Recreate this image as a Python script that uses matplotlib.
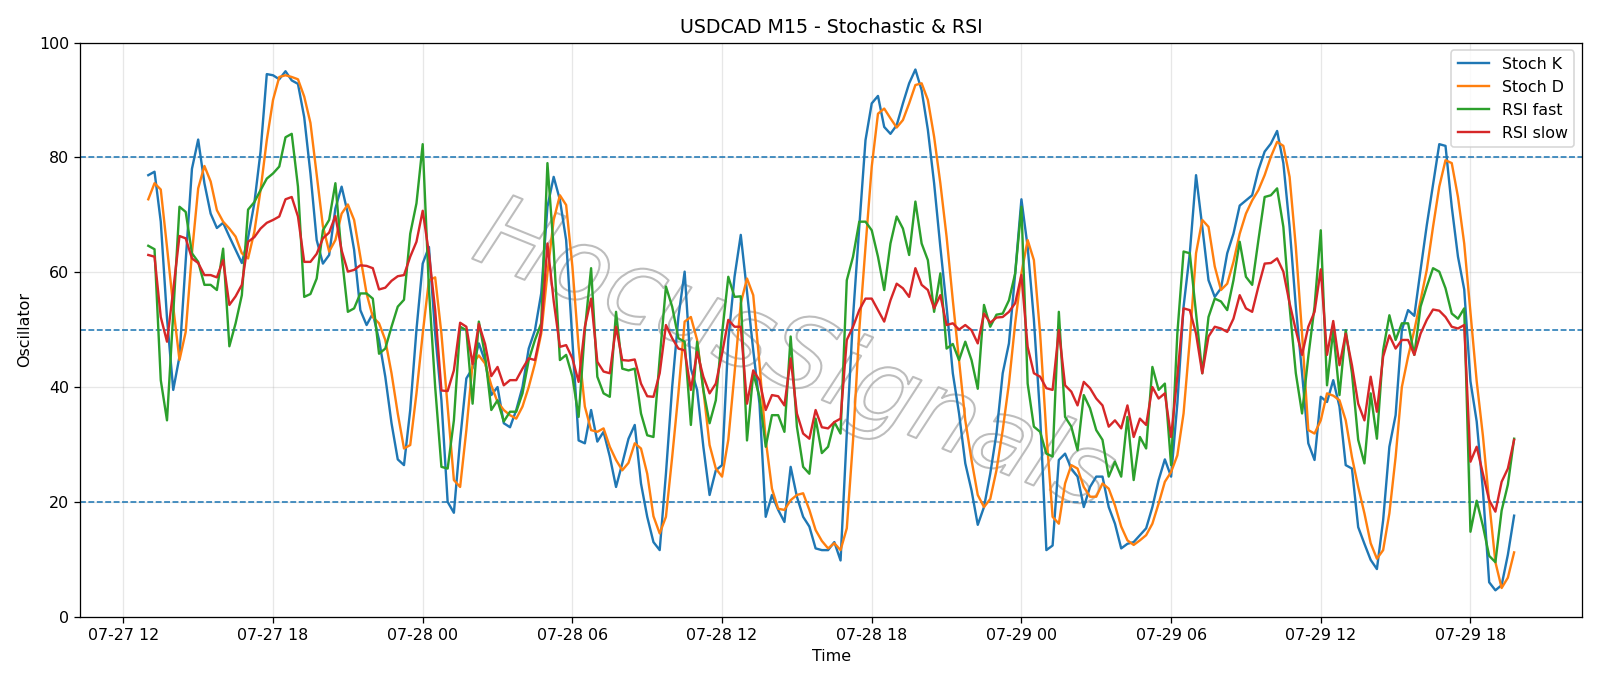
import numpy as np
import pandas as pd
import matplotlib
matplotlib.use("Agg")
import matplotlib.pyplot as plt
import matplotlib.dates as mdates
import matplotlib.patheffects as pe

plt.rcParams["font.family"] = "DejaVu Sans"

# 15-minute bars, 07-27 13:00 -> 07-29 19:45
times = pd.date_range("2025-07-27 13:00", periods=220, freq="15min")

stoch_k = [
    76.9, 77.5, 68.8, 52.0, 39.5, 45.3, 62.0, 78.0, 83.1, 75.5,
    70.2, 67.7, 68.6, 66.2, 63.9, 61.6, 66.0, 72.0, 81.0, 94.5,
    94.3, 93.6, 95.0, 93.4, 92.8, 87.0, 77.2, 65.6, 61.5, 63.0,
    71.1, 74.9, 70.2, 63.9, 53.4, 50.8, 52.8, 48.2, 41.8, 33.7,
    27.4, 26.4, 36.0, 50.0, 61.5, 64.4, 49.3, 37.7, 20.0, 18.1,
    30.8, 41.5, 43.3, 47.6, 44.5, 38.6, 40.0, 33.7, 33.0, 36.0,
    40.0, 46.7, 49.9, 56.3, 71.4, 76.6, 72.6, 65.6, 48.2, 30.7,
    30.2, 36.0, 30.5, 32.2, 27.9, 22.6, 26.7, 31.0, 33.4, 23.2,
    17.4, 13.0, 11.6, 24.9, 40.0, 52.2, 60.1, 43.2, 39.5, 29.6,
    21.2, 25.5, 26.4, 48.2, 59.2, 66.5, 56.6, 46.4, 37.1, 17.4,
    21.2, 18.6, 16.5, 26.1, 20.9, 17.4, 15.7, 11.9, 11.6, 11.6,
    13.0, 9.8, 31.9, 52.2, 67.9, 83.0, 89.4, 90.7, 85.3, 84.1,
    85.6, 89.4, 92.9, 95.3, 91.7, 84.8, 75.5, 64.4, 54.0, 42.4,
    35.4, 26.7, 22.0, 16.0, 19.1, 24.9, 31.9, 42.4, 47.6, 59.8,
    72.7, 64.4, 51.7, 35.0, 11.6, 12.4, 27.3, 28.4, 25.8, 24.4,
    19.1, 22.6, 24.4, 24.4, 19.1, 16.2, 11.9, 12.7, 13.0, 14.2,
    15.4, 19.1, 23.8, 27.4, 24.4, 37.1, 54.0, 63.3, 76.9, 67.9,
    58.6, 55.7, 57.2, 63.3, 66.7, 71.6, 72.5, 73.4, 77.8, 81.0,
    82.4, 84.6, 79.0, 67.9, 54.0, 42.4, 30.2, 27.3, 38.3, 37.4,
    41.2, 36.6, 26.4, 25.8, 15.6, 12.7, 9.9, 8.3, 16.8, 29.6,
    35.1, 49.9, 53.4, 52.4, 60.4, 68.2, 75.2, 82.3, 82.0, 71.4,
    62.7, 57.0, 41.0, 34.0, 22.0, 6.0, 4.6, 5.5, 10.8, 17.6,
]

stoch_d = [
    72.7, 75.5, 74.4, 64.4, 54.0, 44.7, 49.6, 63.3, 74.6, 78.5,
    75.8, 70.8, 68.8, 67.6, 66.2, 63.3, 62.4, 67.0, 74.3, 83.0,
    90.0, 94.0, 94.3, 94.0, 93.6, 90.6, 86.0, 77.0, 68.0, 63.6,
    65.6, 70.2, 71.8, 69.1, 62.7, 56.3, 52.2, 51.1, 48.2, 42.4,
    35.4, 29.3, 29.9, 38.9, 49.3, 58.6, 59.1, 49.3, 36.5, 23.8,
    22.6, 32.5, 44.1, 45.5, 44.1, 40.3, 37.4, 36.0, 35.1, 34.5,
    36.6, 40.0, 44.1, 49.3, 59.8, 69.1, 73.4, 71.7, 61.0, 47.0,
    36.6, 32.5, 32.2, 32.8, 29.6, 27.3, 25.5, 26.8, 30.2, 29.3,
    24.9, 17.5, 14.5, 17.4, 27.8, 38.9, 51.4, 52.2, 48.2, 39.5,
    29.9, 25.8, 24.4, 30.8, 42.4, 54.6, 58.9, 56.0, 44.1, 30.8,
    22.3, 18.8, 18.6, 20.3, 21.2, 21.5, 18.6, 15.1, 13.2, 11.9,
    12.8, 11.6, 15.4, 30.7, 49.9, 64.4, 78.4, 87.6, 88.5, 86.8,
    85.2, 86.5, 89.4, 92.6, 92.9, 90.0, 83.6, 75.5, 66.2, 55.1,
    44.7, 34.2, 27.3, 21.2, 19.1, 20.5, 25.5, 32.5, 40.6, 51.1,
    59.8, 65.6, 62.1, 49.3, 31.9, 17.4, 16.2, 23.2, 26.4, 25.8,
    22.6, 20.9, 20.9, 23.2, 22.3, 19.4, 15.7, 13.3, 12.5, 13.3,
    14.2, 16.2, 19.7, 23.5, 25.2, 28.1, 35.4, 48.2, 63.3, 69.1,
    67.9, 61.0, 56.9, 58.0, 61.8, 66.7, 70.2, 72.5, 74.3, 76.9,
    80.1, 82.7, 82.0, 76.6, 64.4, 49.3, 32.5, 31.9, 34.2, 38.9,
    38.5, 37.7, 34.2, 27.8, 22.6, 18.0, 12.8, 10.1, 11.6, 18.0,
    27.8, 40.0, 45.3, 49.9, 55.1, 60.4, 67.9, 74.9, 79.5, 79.0,
    73.1, 65.0, 53.0, 41.0, 31.5, 20.0, 9.5, 5.0, 6.8, 11.2,
]

rsi_fast = [
    64.6, 64.0, 41.2, 34.2, 52.8, 71.4, 70.5, 63.3, 61.8, 57.8,
    57.8, 56.9, 64.1, 47.1, 51.1, 56.0, 70.9, 72.2, 74.3, 76.3,
    77.2, 78.4, 83.5, 84.1, 74.9, 55.7, 56.2, 58.9, 67.3, 69.1,
    75.5, 63.0, 53.1, 53.7, 56.3, 56.3, 55.4, 45.8, 46.7, 50.5,
    54.0, 55.2, 66.7, 72.0, 82.3, 57.0, 40.0, 26.1, 25.8, 34.2,
    50.5, 49.9, 37.1, 51.4, 45.5, 36.0, 37.7, 34.0, 35.7, 35.7,
    38.9, 44.7, 48.2, 51.1, 79.0, 64.0, 44.7, 45.6, 41.8, 34.8,
    49.9, 60.7, 41.8, 38.9, 38.3, 53.1, 43.2, 42.9, 43.2, 35.4,
    31.6, 31.3, 45.0, 57.5, 54.0, 48.5, 47.9, 33.4, 47.9, 39.5,
    33.7, 37.7, 49.3, 59.2, 55.7, 55.8, 30.7, 42.4, 38.3, 29.6,
    35.1, 35.1, 32.2, 48.8, 33.1, 26.1, 24.9, 34.5, 28.5, 29.6,
    33.9, 31.9, 58.6, 62.7, 68.8, 68.8, 67.3, 62.7, 56.9, 65.0,
    69.7, 67.6, 63.0, 72.3, 65.0, 62.1, 53.1, 59.8, 46.7, 47.5,
    44.7, 47.9, 44.7, 39.7, 54.3, 50.5, 52.6, 52.8, 55.1, 59.8,
    71.4, 40.6, 33.1, 32.2, 28.4, 27.9, 53.1, 34.8, 33.1, 29.0,
    38.6, 36.3, 32.5, 30.8, 24.4, 27.0, 24.4, 34.8, 23.8, 31.3,
    29.3, 43.5, 39.5, 40.6, 26.4, 49.3, 63.6, 63.3, 52.8, 42.4,
    52.2, 55.4, 54.9, 53.4, 58.6, 65.3, 59.2, 57.8, 65.6, 73.1,
    73.4, 74.6, 67.9, 54.0, 42.4, 35.4, 45.3, 54.0, 67.3, 40.3,
    49.9, 38.6, 49.9, 42.4, 30.8, 26.7, 38.9, 31.0, 46.4, 52.5,
    48.2, 51.1, 51.1, 45.6, 54.0, 57.5, 60.7, 60.1, 57.2, 52.8,
    51.9, 53.7, 14.8, 20.2, 15.8, 10.6, 9.5, 18.5, 23.0, 31.0,
]

rsi_slow = [
    63.0, 62.7, 52.2, 47.9, 56.9, 66.3, 65.9, 62.4, 61.6, 59.5,
    59.5, 59.1, 62.1, 54.3, 55.8, 57.8, 65.3, 66.1, 67.6, 68.6,
    69.1, 69.7, 72.7, 73.1, 69.7, 61.8, 61.8, 63.2, 65.9, 66.9,
    69.8, 63.8, 60.1, 60.4, 61.2, 61.1, 60.7, 57.0, 57.3, 58.5,
    59.3, 59.5, 62.7, 65.3, 70.7, 63.3, 53.4, 39.4, 39.3, 42.9,
    51.2, 50.5, 44.0, 51.0, 47.5, 41.9, 43.5, 40.3, 41.2, 41.2,
    43.2, 45.0, 44.7, 49.9, 65.0, 55.0, 47.0, 47.3, 45.0, 40.9,
    50.5, 55.4, 44.4, 42.7, 42.4, 50.5, 44.7, 44.6, 44.8, 40.6,
    38.4, 38.3, 42.4, 50.8, 48.5, 46.7, 46.4, 39.5, 46.1, 41.8,
    38.9, 40.6, 45.8, 51.7, 50.5, 50.5, 37.1, 42.9, 41.2, 36.0,
    38.6, 38.4, 36.8, 45.0, 35.4, 31.9, 31.0, 36.0, 33.0, 32.8,
    33.9, 34.5, 48.2, 50.5, 53.4, 55.4, 55.4, 53.4, 51.4, 55.1,
    58.0, 57.2, 55.7, 60.7, 57.8, 56.9, 53.7, 56.0, 50.8, 51.1,
    50.0, 50.8, 49.9, 47.6, 52.8, 51.2, 52.1, 52.2, 53.1, 54.6,
    59.5, 47.0, 42.4, 41.8, 39.8, 39.5, 49.9, 40.3, 39.2, 36.8,
    40.9, 39.8, 38.0, 36.8, 33.1, 34.2, 32.8, 36.8, 31.3, 34.5,
    33.4, 40.0, 38.0, 38.9, 31.3, 41.8, 53.7, 53.4, 49.3, 42.4,
    48.8, 50.5, 50.2, 49.6, 51.9, 56.0, 53.7, 53.1, 57.5, 61.5,
    61.6, 62.4, 60.1, 54.6, 49.9, 45.6, 50.5, 53.1, 60.5, 45.6,
    51.5, 43.8, 49.3, 43.8, 37.1, 34.2, 41.8, 35.7, 45.3, 49.0,
    46.7, 48.2, 48.2, 45.6, 49.3, 51.7, 53.5, 53.3, 52.2, 50.5,
    50.2, 50.8, 27.0, 29.6, 24.9, 20.3, 18.3, 23.5, 25.8, 30.8,
]

levels = [80, 50, 20]

fig, ax = plt.subplots(figsize=(14, 6.0025), dpi=1600 / 14)
fig.subplots_adjust(left=0.05, right=0.989, top=0.938, bottom=0.101)

# watermark, hollow letters under the lines
ax.text(0.475, 0.45, "HocusSignals", transform=ax.transAxes, fontsize=64,
        style="italic", rotation=-22, ha="center", va="center",
        color="none", zorder=1.5,
        path_effects=[pe.Stroke(linewidth=1.3, foreground="#bdbdbd")])

ax.plot(times, stoch_k, color="C0", linewidth=1.5, label="Stoch K", zorder=3)
ax.plot(times, stoch_d, color="C1", linewidth=1.5, label="Stoch D", zorder=3)
ax.plot(times, rsi_fast, color="C2", linewidth=1.5, label="RSI fast", zorder=3)
ax.plot(times, rsi_slow, color="C3", linewidth=1.5, label="RSI slow", zorder=3)

for lv in levels:
    ax.axhline(lv, color="C0", linestyle="--", linewidth=1)

ax.set_ylim(0, 100)
ax.set_title("USDCAD M15 - Stochastic & RSI")
ax.set_xlabel("Time")
ax.set_ylabel("Oscillator")
ax.grid(True, alpha=0.3)
ax.xaxis.set_major_locator(mdates.HourLocator(byhour=[0, 6, 12, 18]))
ax.xaxis.set_major_formatter(mdates.DateFormatter("%m-%d %H"))
ax.legend(loc="upper right")

fig.savefig("out.png", dpi=1600 / 14)
